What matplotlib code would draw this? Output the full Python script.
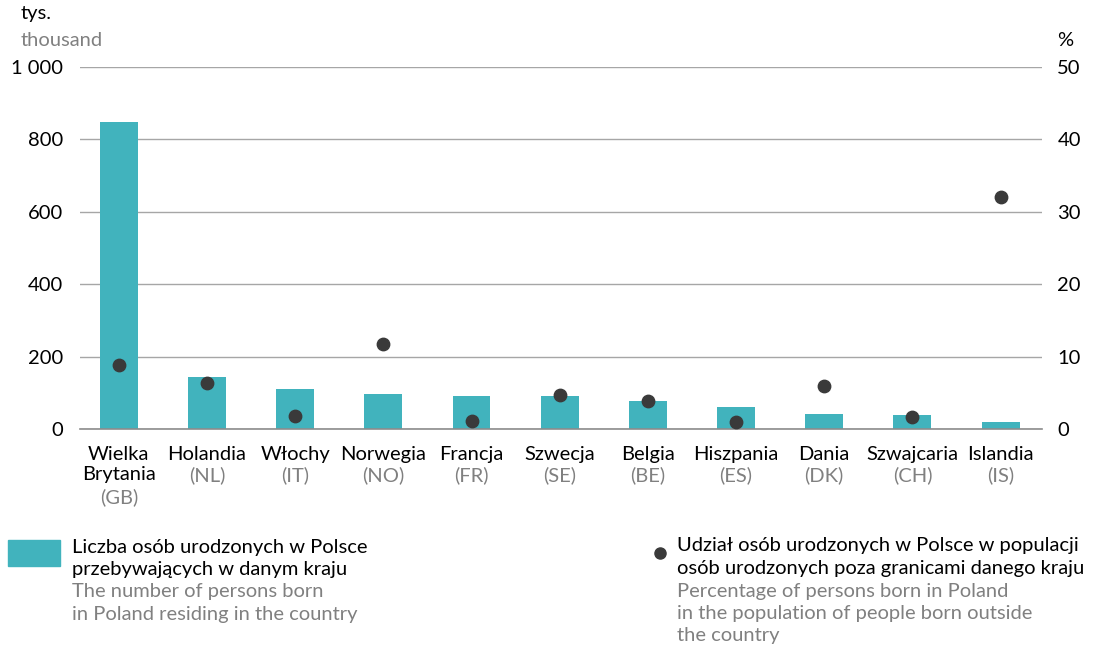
import numpy as np
import matplotlib.pyplot as plt
import matplotlib.transforms as mtransforms

plt.rcParams['font.family'] = ['Lato', 'DejaVu Sans']

# data
countries = ["Wielka\nBrytania", "Holandia", "Włochy", "Norwegia", "Francja", "Szwecja",
             "Belgia", "Hiszpania", "Dania", "Szwajcaria", "Islandia"]
codes = ["(GB)", "(NL)", "(IT)", "(NO)", "(FR)", "(SE)", "(BE)", "(ES)", "(DK)", "(CH)", "(IS)"]
persons_thousand = [848, 144, 110, 97, 91, 91, 77, 61, 41, 39, 19]
share_percent = [8.9, 6.3, 1.8, 11.8, 1.1, 4.7, 3.9, 0.9, 5.9, 1.6, 32.0]
left_ticks = [0, 200, 400, 600, 800, 1000]
left_labels = ["0", "200", "400", "600", "800", "1 000"]
right_ticks = [0, 10, 20, 30, 40, 50]

TEAL = "#41b3bd"
DOT = "#3a3a3a"
GRAY = "#808080"
FS = 14.5

fig = plt.figure(figsize=(11.06, 6.52), dpi=100)
ax = fig.add_axes([80 / 1106, 1 - 429 / 652, (1042 - 80) / 1106, (429 - 67) / 652])
x = np.arange(len(countries))

ax.bar(x, persons_thousand, width=0.43, color=TEAL, zorder=2)
ax.set_ylim(0, 1000)
ax.set_xlim(-0.44, 10.47)
ax.set_yticks(left_ticks)
ax.set_yticklabels(left_labels)
ax.grid(axis="y", color="#a6a6a6", lw=1, zorder=0)
for s in ["top", "right", "left"]:
    ax.spines[s].set_visible(False)
ax.spines["bottom"].set_color("#8c8c8c")
ax.spines["bottom"].set_linewidth(1.2)
ax.tick_params(axis="y", length=0, pad=12, labelsize=FS)
ax.tick_params(axis="x", length=0, pad=12, labelsize=FS)
ax.set_xticks(x)
ax.set_xticklabels(countries, linespacing=1.25)

ax2 = ax.twinx()
ax2.scatter(x, share_percent, s=80, color=DOT, zorder=3)
ax2.set_ylim(0, 50)
ax2.set_yticks(right_ticks)
ax2.tick_params(axis="y", length=0, pad=11, labelsize=FS)
for s in ax2.spines.values():
    s.set_visible(False)

# gray country codes under the names
trans = mtransforms.blended_transform_factory(ax.transData, fig.transFigure)
for i, c in enumerate(codes):
    ypix = 497 if i == 0 else 475
    ax.text(i, 1 - ypix / 652, c, transform=trans, ha="center", va="center",
            fontsize=FS, color=GRAY)

# unit labels
fig.text(21 / 1106, 1 - 14 / 652, "tys.", fontsize=FS, va="center")
fig.text(21 / 1106, 1 - 40 / 652, "thousand", fontsize=FS, va="center", color=GRAY)
fig.text(1057 / 1106, 1 - 40 / 652, "%", fontsize=FS, va="center")

# legend
fig.patches.append(plt.Rectangle((8 / 1106, 1 - 566 / 652), 52 / 1106, 26 / 652,
                                 transform=fig.transFigure, color=TEAL, figure=fig))
left_lines = [("Liczba osób urodzonych w Polsce", "black"),
              ("przebywających w danym kraju", "black"),
              ("The number of persons born", GRAY),
              ("in Poland residing in the country", GRAY)]
for k, (t, col) in enumerate(left_lines):
    fig.text(72 / 1106, 1 - (547 + 22.5 * k) / 652, t, fontsize=FS, color=col, va="center")

fig.add_artist(plt.Line2D([660 / 1106], [1 - 553 / 652], marker="o", markersize=8,
                          color=DOT, transform=fig.transFigure))
right_lines = [("Udział osób urodzonych w Polsce w populacji", "black"),
               ("osób urodzonych poza granicami danego kraju", "black"),
               ("Percentage of persons born in Poland", GRAY),
               ("in the population of people born outside", GRAY),
               ("the country", GRAY)]
for k, (t, col) in enumerate(right_lines):
    fig.text(677 / 1106, 1 - (546 + 22.5 * k) / 652, t, fontsize=FS, color=col, va="center")

fig.savefig("out.png", dpi=100)
